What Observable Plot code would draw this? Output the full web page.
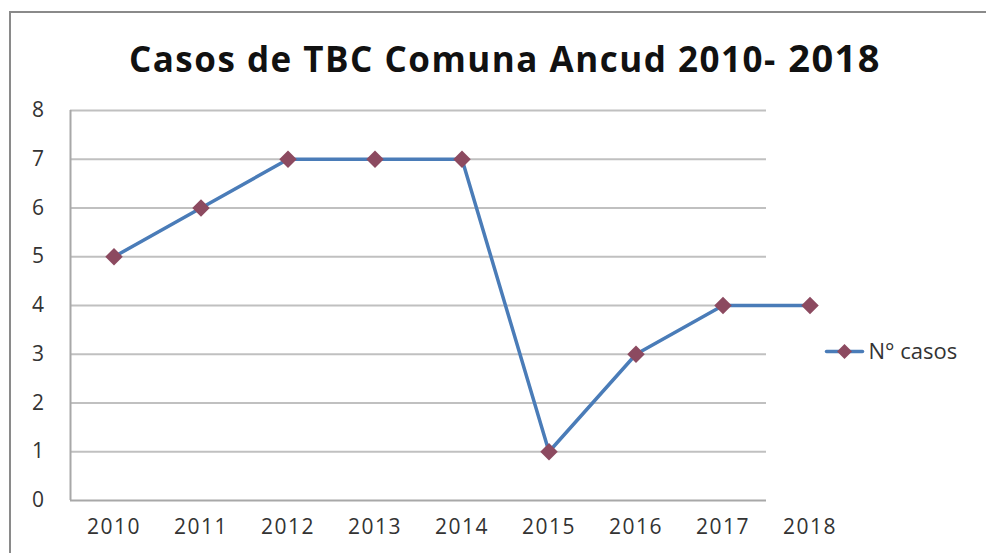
<!DOCTYPE html>
<html><head><meta charset="utf-8">
<script src="https://cdn.jsdelivr.net/npm/d3@7"></script>
<script src="https://cdn.jsdelivr.net/npm/@observablehq/plot@0.6"></script>
<style>
body{margin:0;background:#fff;}
#wrap{position:relative;width:986px;height:553px;overflow:hidden;background:#fff;}
#border{position:absolute;left:9px;top:11px;width:1000px;height:600px;border-left:2px solid #8a8a8a;border-top:2px solid #8a8a8a;}
#title{position:absolute;left:12px;width:986px;top:31px;text-align:center;font-family:"Open Sans",sans-serif;font-weight:bold;font-size:35px;letter-spacing:1.5px;color:#111;white-space:nowrap;}
#title .big{font-size:38px;}
#chart{position:absolute;left:0;top:0;}
#legend{position:absolute;left:822px;top:336px;}
</style>
</head><body>
<div id="wrap">
<div id="border"></div>
<div id="chart"></div>
<div id="title"></div>
<div id="legend"></div>
</div>
<script>
const titleMain = "Casos de TBC Comuna Ancud 2010-";
const titleEnd = " 2018";
const seriesName = "N° casos";
const years = [2010, 2011, 2012, 2013, 2014, 2015, 2016, 2017, 2018];
const cases = [5, 6, 7, 7, 7, 1, 3, 4, 4];
const yTicks = [0, 1, 2, 3, 4, 5, 6, 7, 8];

const lineColor = "#4a7cb8";
const markColor = "#8c4a60";
const textColor = "#333333";

const data = years.map((y, i) => ({year: y, value: cases[i]}));
const xStart = years[0] - 0.5;
const xEnd = years[years.length - 1] + 0.5;
const gridEnd = years[years.length - 2] + 0.5;

document.getElementById("title").innerHTML =
  titleMain + '<span class="big">' + titleEnd + '</span>';

const chart = Plot.plot({
  width: 986,
  height: 553,
  marginLeft: 70,
  marginRight: 133,
  marginTop: 110,
  marginBottom: 53,
  style: {background: "transparent", fontFamily: "Open Sans, sans-serif", overflow: "visible"},
  x: {type: "linear", domain: [xStart, xEnd], axis: null, label: null},
  y: {domain: [0, 8], axis: null, label: null},
  marks: [
    Plot.ruleY(yTicks.slice(1), {x1: xStart, x2: gridEnd, stroke: "#c0c0c0", strokeWidth: 2}),
    Plot.ruleY([0], {x1: xStart, x2: gridEnd, stroke: "#a8a8a8", strokeWidth: 2}),
    Plot.ruleX([xStart], {y1: 0, y2: 8, stroke: "#a8a8a8", strokeWidth: 2}),
    Plot.line(data, {x: "year", y: "value", stroke: lineColor, strokeWidth: 3.5}),
    Plot.dot(data, {x: "year", y: "value", symbol: "square", rotate: 45, r: 7, fill: markColor, stroke: "none"}),
    Plot.axisX({ticks: years, tickFormat: d => String(d), tickSize: 0, tickPadding: 19, fontSize: 21, fill: textColor, anchor: "bottom", label: null}),
    Plot.axisY({ticks: yTicks, tickFormat: d => String(d), tickSize: 0, tickPadding: 25, fontSize: 21, fill: textColor, anchor: "left", label: null})
  ]
});
chart.querySelectorAll("text").forEach(t => { t.style.letterSpacing = "1.5px"; });
document.getElementById("chart").appendChild(chart);

// legend
const legendData = [{x: 0, y: 0}, {x: 1, y: 0}];
const legend = Plot.plot({
  width: 164, height: 30, margin: 0, marginLeft: 4, marginRight: 124,
  style: {background: "transparent", overflow: "visible"},
  x: {domain: [0, 1], axis: null}, y: {domain: [-1, 1], axis: null},
  marks: [
    Plot.line(legendData, {x: "x", y: "y", stroke: lineColor, strokeWidth: 3.5}),
    Plot.dot([{x: 0.5, y: 0}], {x: "x", y: "y", symbol: "square", rotate: 45, r: 6, fill: markColor}),
    Plot.text([seriesName], {frameAnchor: "right", dx: 6, textAnchor: "start", fontSize: 22, fill: textColor, fontFamily: "Open Sans, sans-serif"})
  ]
});
document.getElementById("legend").appendChild(legend);
</script>
</body></html>
